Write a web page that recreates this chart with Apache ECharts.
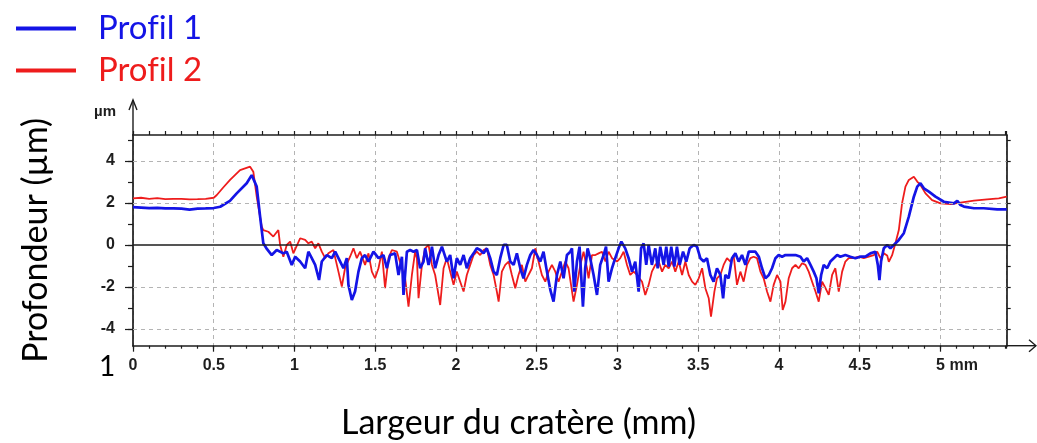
<!DOCTYPE html>
<html>
<head>
<meta charset="utf-8">
<script src="https://cdn.jsdelivr.net/npm/echarts@6/dist/echarts.min.js"></script>
<style>
  html, body { margin: 0; padding: 0; background: #ffffff; }
  #chart { width: 1037px; height: 443px; }
</style>
</head>
<body>
<div id="chart"></div>
<script>
// Crater depth profiles: [width (mm), depth (µm)]
const profil1 = [
  [0,1.8],[0.05,1.78],[0.1,1.76],[0.15,1.77],[0.2,1.74],[0.25,1.74],[0.3,1.73],[0.35,1.68],[0.4,1.73],[0.45,1.74],[0.5,1.76],
  [0.54,1.82],[0.6,2.1],[0.642,2.46],[0.704,2.94],[0.735,3.33],[0.766,2.78],[0.787,1.35],[0.807,0.08],[0.83,-0.2],[0.859,-0.48],[0.89,-0.24],
  [0.931,-0.40],[0.952,-0.32],[0.983,-0.95],[1.004,-0.56],[1.035,-0.79],[1.066,-1.11],[1.086,-0.32],[1.107,-0.63],[1.128,-0.95],[1.152,-1.67],
  [1.169,-0.79],[1.2,-0.48],[1.231,-0.63],[1.252,-0.32],[1.283,-0.79],[1.303,-1.11],[1.324,-0.63],[1.334,-1.9],[1.355,-2.62],[1.375,-2.22],
  [1.396,-1.27],[1.417,-0.63],[1.437,-0.48],[1.458,-0.79],[1.489,-0.32],[1.52,-0.63],[1.551,-0.48],[1.572,-1.11],[1.592,-0.48],[1.623,-0.40],
  [1.644,-1.43],[1.665,-0.56],[1.675,-2.38],[1.696,-0.32],[1.716,-0.24],
  [1.737,-0.32],[1.758,-0.24],[1.778,-1.11],[1.799,-0.79],[1.809,-0.16],[1.83,-0.95],[1.84,-0.63],[1.851,-0.08],[1.871,-1.11],[1.892,-0.48],
  [1.913,-0.08],[1.943,-0.79],[1.964,-0.48],[1.985,-1.59],[2.005,-0.63],[2.026,-0.95],[2.047,-0.48],[2.067,-1.11],[2.088,-0.63],[2.109,-0.40],
  [2.129,-0.16],[2.15,-0.24],[2.171,-0.40],[2.191,-0.16],[2.212,-0.63],[2.233,-1.27],[2.253,-1.43],[2.274,-0.63],[2.295,0],[2.315,0],
  [2.336,-0.79],[2.357,-0.95],[2.377,-0.40],[2.398,-1.11],[2.418,-1.59],[2.439,-0.95],[2.46,-0.48],[2.48,-0.24],[2.501,-0.48],[2.522,-0.79],
  [2.542,-0.32],[2.563,-1.27],[2.584,-2.14],[2.604,-2.7],[2.625,-1.43],[2.646,-0.79],[2.666,-1.59],[2.687,-0.48],[2.708,-0.32],
  [2.718,-0.16],[2.732,-2.22],[2.749,-0.79],[2.765,-0.08],[2.786,-2.94],[2.8,-1.11],[2.815,-0.16],[2.831,-0.63],[2.852,-1.43],[2.873,-2.38],
  [2.893,-0.95],[2.914,-0.48],[2.929,-0.08],[2.945,-1.75],[2.966,-1.11],[2.986,-0.63],[3.007,-0.16],[3.024,0.16],[3.048,-0.16],[3.069,-0.63],
  [3.09,-1.27],[3.11,-0.79],[3.131,-2.22],[3.146,-0.16],[3.162,0.08],[3.178,-0.95],[3.193,0],[3.213,-0.95],[3.234,-0.16],[3.249,-1.11],
  [3.265,-0.08],[3.286,-0.95],[3.302,-0.08],[3.317,-1.03],[3.333,-0.08],[3.352,-1.03],[3.368,-0.08],[3.385,-0.95],[3.406,-0.32],[3.426,-0.79],
  [3.447,-0.16],[3.472,0],[3.492,-0.08],[3.513,-0.63],[3.534,-0.79],[3.554,-0.63],[3.575,-1.43],[3.595,-1.75],[3.616,-1.11],[3.637,-1.43],
  [3.654,-2.54],[3.668,-1.43],[3.688,-1.59],[3.709,-0.63],[3.73,-0.40],
  [3.75,-0.79],[3.771,-0.48],[3.792,-0.95],[3.813,-0.32],[3.833,-0.32],[3.854,-0.32],[3.875,-0.56],[3.895,-1.11],[3.916,-1.59],[3.937,-1.43],
  [3.957,-1.11],[3.978,-0.63],[3.998,-0.48],[4.019,-0.56],[4.04,-0.48],[4.071,-0.48],[4.102,-0.48],[4.133,-0.56],[4.153,-0.79],[4.174,-0.63],
  [4.195,-0.95],[4.215,-1.27],[4.232,-1.59],[4.246,-2.3],[4.261,-1.43],[4.277,-0.95],[4.298,-1.11],[4.318,-0.79],[4.339,-0.63],[4.36,-0.48],
  [4.38,-0.56],[4.411,-0.48],[4.442,-0.56],[4.473,-0.63],[4.504,-0.56],[4.535,-0.56],[4.566,-0.40],[4.597,-0.32],[4.612,-0.95],[4.622,-1.67],
  [4.632,-0.79],[4.649,-0.16],[4.67,0],[4.69,-0.16],[4.711,0],
  [4.742,0.24],[4.773,0.56],[4.804,1.35],[4.835,2.3],[4.856,2.78],[4.876,2.94],[4.897,2.7],[4.928,2.54],[4.969,2.3],[5.021,2.06],
  [5.083,1.98],[5.104,2.11],[5.124,1.9],[5.145,1.83],[5.207,1.75],[5.268,1.75],[5.351,1.7],[5.41,1.7]
];

const profil2 = [
  [0,2.22],[0.05,2.25],[0.1,2.2],[0.15,2.23],[0.2,2.18],[0.25,2.2],[0.3,2.2],[0.35,2.17],[0.4,2.18],[0.45,2.2],[0.5,2.25],
  [0.519,2.38],[0.56,2.75],[0.601,3.1],[0.663,3.57],[0.725,3.73],[0.745,3.49],[0.766,2.3],[0.797,0.87],[0.807,0.71],[0.838,0.63],[0.869,0.40],[0.9,0.71],
  [0.911,0],[0.931,-0.56],[0.952,0],[0.973,0.16],[0.993,-0.40],[1.035,0.32],[1.066,0.24],[1.086,0.08],[1.107,0.16],[1.128,-0.16],[1.148,0.08],
  [1.169,-0.32],[1.19,-0.63],[1.21,-0.40],[1.241,-0.24],[1.272,-1.27],[1.293,-1.98],[1.313,-1.11],[1.344,-0.56],[1.365,-0.16],[1.386,-0.63],
  [1.406,-0.32],[1.437,-0.95],[1.458,-0.40],[1.479,-1.27],[1.499,-1.59],[1.52,-1.11],[1.541,-0.32],[1.561,-2.06],[1.582,-0.63],[1.603,-0.24],
  [1.634,-0.32],[1.665,-1.11],[1.685,-1.59],[1.706,-2.94],[1.727,-1.43],[1.747,-0.32],
  [1.758,-0.63],[1.768,-2.54],[1.789,-0.95],[1.809,-0.16],[1.83,0],[1.851,-0.95],[1.871,-1.43],[1.902,-2.86],[1.923,-1.11],[1.943,-0.63],
  [1.964,-1.27],[1.985,-1.9],[2.005,-1.27],[2.026,-1.75],[2.047,-2.22],[2.067,-1.43],[2.088,-0.95],[2.109,-0.48],[2.129,-0.32],[2.15,-0.48],
  [2.171,-0.24],[2.191,-0.16],[2.212,-0.95],[2.233,-1.43],[2.253,-2.22],[2.264,-2.7],[2.284,-1.27],[2.305,-0.95],[2.326,-0.79],[2.346,-1.43],
  [2.367,-2.06],[2.387,-1.43],[2.408,-0.95],[2.429,-1.75],[2.449,-1.43],[2.47,-1.11],[2.491,-0.16],[2.511,-0.79],[2.532,-1.43],[2.553,-1.75],
  [2.573,-1.27],[2.594,-0.95],[2.615,-1.27],[2.635,-1.75],[2.656,-1.27],[2.677,-0.79],[2.697,-1.11],
  [2.708,-1.11],[2.728,-2.7],[2.749,-1.9],[2.77,-0.95],[2.79,-0.32],[2.811,-1.11],[2.821,-1.59],[2.842,-0.48],[2.863,-0.48],[2.883,-0.40],
  [2.904,-0.32],[2.925,-0.79],[2.945,-0.32],[2.966,-0.63],[2.997,-0.79],[3.017,-0.63],[3.038,-0.32],[3.059,-0.95],[3.079,-1.43],[3.1,-1.27],
  [3.121,-1.43],[3.152,-1.75],[3.172,-2.38],[3.193,-1.9],[3.213,-1.27],[3.234,-0.95],[3.255,-0.79],[3.276,-1.27],[3.296,-0.95],[3.317,-1.11],
  [3.338,-0.79],[3.358,-1.27],[3.379,-0.79],[3.4,-1.43],[3.42,-0.79],[3.441,-1.43],[3.462,-1.75],[3.482,-1.9],[3.503,-1.59],[3.524,-1.11],
  [3.544,-2.06],[3.565,-2.54],[3.579,-3.41],[3.6,-2.22],[3.616,-1.59],[3.637,-1.43],[3.657,-0.95],[3.678,-0.63],[3.699,-0.79],[3.719,-0.48],
  [3.74,-1.9],[3.761,-1.27],[3.781,-1.75],[3.802,-0.95],[3.823,-0.63],[3.843,-0.56],[3.864,-0.63],[3.885,-1.27],[3.905,-1.59],[3.926,-2.22],
  [3.947,-2.7],[3.967,-1.9],[3.988,-1.43],[4.009,-1.75],[4.023,-3.1],[4.04,-2.7],[4.06,-1.59],[4.081,-1.11],[4.102,-0.95],[4.122,-1.11],
  [4.143,-0.87],[4.164,-0.95],[4.184,-1.27],[4.205,-1.75],[4.226,-2.22],[4.246,-2.7],[4.267,-1.75],[4.288,-2.06],[4.308,-2.38],[4.329,-1.43],
  [4.349,-1.11],[4.37,-2.22],[4.391,-1.27],[4.411,-0.79],[4.432,-0.63],[4.463,-0.63],[4.494,-0.56],[4.525,-0.63],[4.556,-0.56],[4.587,-0.48],
  [4.608,-0.32],[4.628,-0.63],[4.649,-0.4],[4.67,-0.5],[4.68,-0.8],[4.7,-0.5],
  [4.721,0.08],[4.742,0.71],[4.762,1.98],[4.783,2.78],[4.804,3.1],[4.835,3.25],[4.856,3.02],[4.876,2.86],[4.907,2.46],[4.948,2.14],
  [5.0,1.98],[5.062,1.95],[5.124,2.02],[5.207,2.11],[5.289,2.17],[5.361,2.22],[5.41,2.3]
];

// Axis extents and tick positions
const xRange = [0, 5.41];
const yRange = [-4.8, 5.24];
const yLabelValues = [-4, -2, 0, 2, 4];
const yTickValues = [-4, -3, -2, -1, 0, 1, 2, 3, 4, 5];
const yGridValues = [-4, -2, 2, 4];

const BLUE = '#1414e6';
const RED = '#ee1c1c';
const AXIS = '#1c1c1c';
const GRID = '#b4b4b4';

const tickLabelStyle = {
  fontFamily: 'Liberation Sans', fontWeight: 'bold', fontSize: 16, color: '#1e1e1e'
};

const chart = echarts.init(document.getElementById('chart'), null, { renderer: 'canvas' });

const axisLine = { show: true, onZero: false, lineStyle: { color: AXIS, width: 1.7 } };
const hiddenLine = { show: false, onZero: false };
const tickLine = { color: AXIS, width: 1.2 };

// keep "fi" as two separate letters in the legend text
const legendFormatter = name => name.replace('fi', 'f\u200Ci');

const legendBase = {
  left: 11, orient: 'vertical', icon: 'rect',
  itemWidth: 60, itemHeight: 4, selectedMode: false,
  formatter: legendFormatter,
  textStyle: { fontFamily: 'Lato', fontSize: 33, padding: [0, 0, 0, 17] }
};

const option = {
  animation: false,
  backgroundColor: '#ffffff',
  grid: { left: 133, right: 30.3, top: 135, bottom: 97.3 },
  title: {
    text: 'Largeur du cratère (mm)',
    left: 'center',
    top: 401,
    textStyle: { fontFamily: 'Lato', fontSize: 34, fontWeight: 'normal', color: '#000000' }
  },
  legend: [
    Object.assign({}, legendBase, { top: 7, data: [{ name: 'Profil 1', textStyle: { color: BLUE } }] }),
    Object.assign({}, legendBase, { top: 49, data: [{ name: 'Profil 2', textStyle: { color: RED } }] })
  ],
  xAxis: [
    {
      type: 'value', min: xRange[0], max: xRange[1], interval: 0.5, position: 'bottom',
      axisLine: axisLine,
      axisTick: { show: true, length: 6, lineStyle: tickLine },
      axisLabel: {
        ...tickLabelStyle, margin: 12, showMaxLabel: false,
        formatter: v => (v === 5 ? '{u|5 mm}' : String(v)),
        rich: { u: { ...tickLabelStyle, padding: [0, 0, 0, 33] } }
      },
      splitLine: { show: true, lineStyle: { color: GRID, width: 1, type: [4, 4] } }
    },
    {
      type: 'value', min: xRange[0], max: xRange[1], interval: 0.1, position: 'bottom',
      axisLine: hiddenLine,
      axisTick: { show: true, length: 3, lineStyle: tickLine },
      axisLabel: { show: false }, splitLine: { show: false }
    },
    {
      type: 'value', min: xRange[0], max: xRange[1], interval: 0.1, position: 'top',
      axisLine: axisLine,
      axisTick: { show: true, length: 4, lineStyle: tickLine },
      axisLabel: { show: false }, splitLine: { show: false }
    }
  ],
  yAxis: [
    {
      type: 'value', min: yRange[0], max: yRange[1], position: 'left',
      axisLine: axisLine,
      axisTick: { show: true, customValues: yTickValues, length: 5, lineStyle: tickLine },
      axisLabel: { ...tickLabelStyle, customValues: yLabelValues, margin: 18 },
      splitLine: { show: false },
      name: 'Profondeur (µm)', nameLocation: 'middle', nameGap: 80, nameRotate: 90,
      nameTextStyle: { fontFamily: 'Lato', fontSize: 34, color: '#000000' }
    },
    {
      type: 'value', min: yRange[0], max: yRange[1], position: 'left',
      axisLine: hiddenLine,
      axisTick: { show: true, customValues: yLabelValues, length: 8, lineStyle: tickLine },
      axisLabel: { show: false }, splitLine: { show: false },
      name: 'µm', nameLocation: 'end', nameGap: 23,
      nameTextStyle: {
        fontFamily: 'Liberation Sans', fontWeight: 'bold', fontSize: 15, color: '#1e1e1e',
        align: 'right', verticalAlign: 'middle', padding: [0, 17, 0, 0]
      }
    },
    {
      type: 'value', min: yRange[0], max: yRange[1], position: 'right',
      axisLine: axisLine,
      axisTick: { show: true, customValues: yTickValues, length: 4, lineStyle: tickLine },
      axisLabel: { show: false }, splitLine: { show: false }
    }
  ],
  series: [
    {
      // horizontal reference lines: dashed grid and the solid zero level
      type: 'line', data: [], xAxisIndex: 0, yAxisIndex: 0, z: 1,
      markLine: {
        silent: true, symbol: 'none', animation: false, label: { show: false },
        data: yGridValues.map(v => ({ yAxis: v, lineStyle: { color: GRID, width: 1, type: [4, 4] } }))
          .concat([{ yAxis: 0, lineStyle: { color: AXIS, width: 1.6, type: 'solid' } }])
      }
    },
    {
      name: 'Profil 2', type: 'line', data: profil2, xAxisIndex: 0, yAxisIndex: 0,
      symbol: 'none', showSymbol: false, z: 3,
      lineStyle: { color: RED, width: 1.8 }, itemStyle: { color: RED }
    },
    {
      name: 'Profil 1', type: 'line', data: profil1, xAxisIndex: 0, yAxisIndex: 0,
      symbol: 'none', showSymbol: false, z: 4,
      lineStyle: { color: BLUE, width: 2.7 }, itemStyle: { color: BLUE }
    }
  ]
};

chart.setOption(option);

// Axis extensions with open arrow heads, placed from the grid corners
const topLeft = chart.convertToPixel({ xAxisIndex: 0, yAxisIndex: 0 }, [xRange[0], yRange[1]]);
const bottomRight = chart.convertToPixel({ xAxisIndex: 0, yAxisIndex: 0 }, [xRange[1], yRange[0]]);
const arrowStyle = { stroke: AXIS, lineWidth: 1.4, fill: null };
const yTipY = topLeft[1] - 35;
const xTipX = 1036;

chart.setOption({
  graphic: [
    { type: 'line', shape: { x1: topLeft[0], y1: topLeft[1], x2: topLeft[0], y2: yTipY }, style: arrowStyle, silent: true },
    { type: 'polyline', shape: { points: [[topLeft[0] - 4, yTipY + 10], [topLeft[0], yTipY], [topLeft[0] + 4, yTipY + 10]] }, style: arrowStyle, silent: true },
    { type: 'line', shape: { x1: bottomRight[0], y1: bottomRight[1], x2: xTipX, y2: bottomRight[1] }, style: arrowStyle, silent: true },
    { type: 'polyline', shape: { points: [[xTipX - 7, bottomRight[1] - 6], [xTipX, bottomRight[1]], [xTipX - 7, bottomRight[1] + 6]] }, style: arrowStyle, silent: true },
    {
      type: 'text', left: 99, top: 353, silent: true,
      style: { text: '1', font: '28px Lato', fill: '#000000' }
    }
  ]
});
</script>
</body>
</html>
